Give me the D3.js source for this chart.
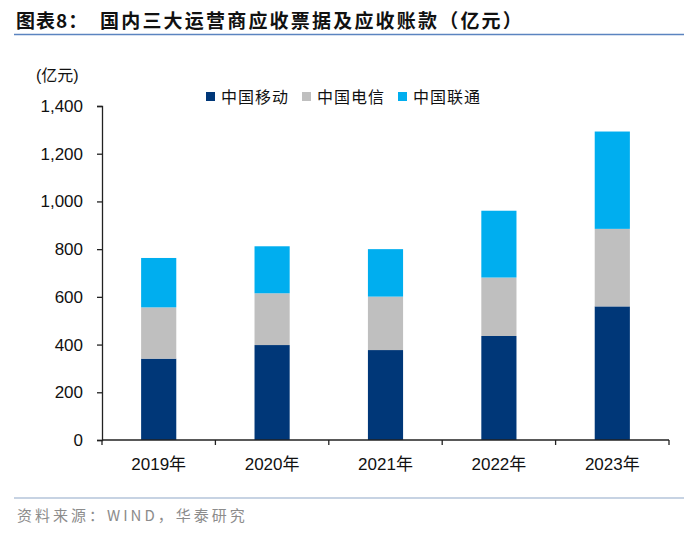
<!DOCTYPE html>
<html>
<head>
<meta charset="utf-8">
<script src="https://cdn.jsdelivr.net/npm/d3@7"></script>
<style>
  body { margin: 0; background: #fff; }
  text { font-family: "Liberation Sans", Arial, "Noto Sans CJK SC", sans-serif; }
  .cjk { font-family: "Noto Sans CJK SC", sans-serif; }
</style>
</head>
<body>
<div id="chart"></div>
<script>
var years = ["2019年", "2020年", "2021年", "2022年", "2023年"];
var seriesNames = ["中国移动", "中国电信", "中国联通"];
var mobile = [341, 398, 377, 436, 560];
var telecom = [215, 217, 224, 245, 325];
var unicom = [207, 197, 199, 280, 408];
var yTicks = [0, 200, 400, 600, 800, 1000, 1200, 1400];
var colors = ["#003778", "#bfbfbf", "#00aeef"];

var svgWidth = 700;
var svgHeight = 535;
var margin = { top: 106, right: 31, bottom: 95, left: 102 };
var width = svgWidth - margin.left - margin.right;
var height = svgHeight - margin.top - margin.bottom;

var svg = d3.select("#chart")
  .append("svg")
  .attr("width", svgWidth)
  .attr("height", svgHeight);

// title + rules
svg.append("text")
  .attr("class", "cjk")
  .attr("x", 16)
  .attr("y", 28)
  .attr("font-size", "19px")
  .attr("font-weight", "bold")
  .attr("letter-spacing", "1px")
  .attr("fill", "#111")
  .text("图表8：");

svg.append("text")
  .attr("class", "cjk")
  .attr("x", 100)
  .attr("y", 28)
  .attr("font-size", "19px")
  .attr("font-weight", "bold")
  .attr("letter-spacing", "2.2px")
  .attr("fill", "#111")
  .text("国内三大运营商应收票据及应收账款（亿元）");

svg.append("line")
  .attr("x1", 14).attr("x2", 684)
  .attr("y1", 34.5).attr("y2", 34.5)
  .attr("stroke", "#5b84c0")
  .attr("stroke-width", 1.5);

svg.append("line")
  .attr("x1", 14).attr("x2", 684)
  .attr("y1", 498).attr("y2", 498)
  .attr("stroke", "#8fa7c8")
  .attr("stroke-width", 1.2);

svg.append("text")
  .attr("class", "cjk")
  .attr("x", 17)
  .attr("y", 521)
  .attr("font-size", "15px")
  .attr("letter-spacing", "3px")
  .attr("fill", "#8c8c8c")
  .text("资料来源：WIND，华泰研究");

var chartGroup = svg.append("g")
  .attr("transform", `translate(${margin.left}, ${margin.top})`);

var data = years.map(function (y, i) {
  return { year: y, mobile: mobile[i], telecom: telecom[i], unicom: unicom[i] };
});
var stack = d3.stack().keys(["mobile", "telecom", "unicom"]);
var stacked = stack(data);

var xScale = d3.scaleBand()
  .domain(years)
  .range([0, width])
  .paddingInner(0.69)
  .paddingOuter(0.345);

var yScale = d3.scaleLinear()
  .domain([0, 1400])
  .range([height, 0]);

// bars
chartGroup.selectAll("g.series")
  .data(stacked)
  .enter().append("g")
  .attr("class", "series")
  .attr("fill", (d, i) => colors[i])
  .selectAll("rect")
  .data(d => d)
  .enter().append("rect")
  .attr("x", d => xScale(d.data.year))
  .attr("width", xScale.bandwidth())
  .attr("y", d => yScale(d[1]))
  .attr("height", d => yScale(d[0]) - yScale(d[1]));

// y axis
var leftAxis = d3.axisLeft(yScale)
  .tickValues(yTicks)
  .tickSize(5)
  .tickPadding(14)
  .tickFormat(d3.format(","));
var yAxisG = chartGroup.append("g").call(leftAxis);
yAxisG.select(".domain").attr("stroke", "#222").attr("stroke-width", 1.3);
yAxisG.selectAll(".tick line").attr("stroke", "#222").attr("stroke-width", 1.3);
yAxisG.selectAll("text")
  .attr("font-size", "17px")
  .attr("fill", "#111")
  .attr("font-family", "'Liberation Sans', Arial, sans-serif");

// x axis with ticks at band boundaries
var step = xScale.step();
var xAxisG = chartGroup.append("g")
  .attr("transform", `translate(0, ${height})`);
xAxisG.append("line")
  .attr("x1", 0).attr("x2", width)
  .attr("stroke", "#222").attr("stroke-width", 1.3);
xAxisG.selectAll("line.tk")
  .data(d3.range(years.length + 1))
  .enter().append("line")
  .attr("class", "tk")
  .attr("x1", d => d * step).attr("x2", d => d * step)
  .attr("y1", 0).attr("y2", 5)
  .attr("stroke", "#222").attr("stroke-width", 1.3);
xAxisG.selectAll("text")
  .data(years)
  .enter().append("text")
  .attr("x", d => xScale(d) + xScale.bandwidth() / 2)
  .attr("y", 30)
  .attr("text-anchor", "middle")
  .attr("font-size", "17px")
  .attr("fill", "#111")
  .text(d => d);

// unit label
svg.append("text")
  .attr("x", 36)
  .attr("y", 81)
  .attr("font-size", "16px")
  .attr("fill", "#111")
  .text("(亿元)");

// legend
var legendX = [206, 302, 398];
var legend = svg.append("g");
seriesNames.forEach(function (name, i) {
  legend.append("rect")
    .attr("x", legendX[i])
    .attr("y", 92)
    .attr("width", 9)
    .attr("height", 9)
    .attr("fill", colors[i]);
  legend.append("text")
    .attr("class", "cjk")
    .attr("x", legendX[i] + 15)
    .attr("y", 103)
    .attr("font-size", "16px")
    .attr("letter-spacing", "1px")
    .attr("fill", "#111")
    .text(name);
});
</script>
</body>
</html>
